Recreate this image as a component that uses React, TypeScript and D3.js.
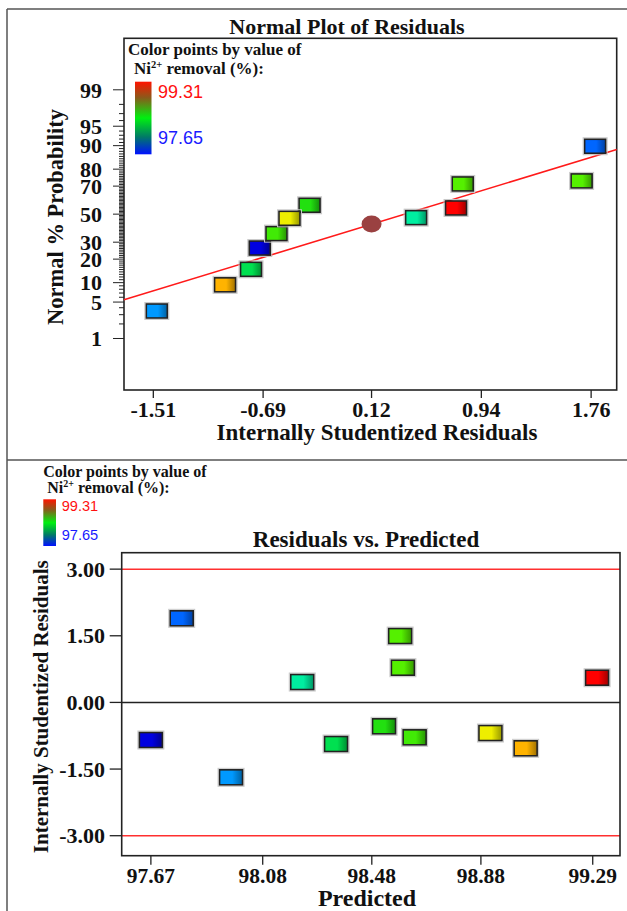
import React from 'react';
import * as d3 from 'd3';

// ---------- data ----------
// runs (same order in every array)
const predicted = [97.67, 97.783, 97.964, 98.225, 98.349, 98.525, 98.584, 98.594, 98.637, 98.915, 99.044, 99.306];
const residuals = [-0.846, 1.893, -1.686, 0.459, -0.936, -0.538, 1.494, 0.781, -0.786, -0.689, -1.033, 0.556];
const normalResiduals = [-0.715, 1.79, -1.484, 0.453, -0.78, -0.343, 1.689, 0.801, -0.59, -0.493, -0.974, 0.751];
const normalProbability = [26.3, 89.8, 3.5, 47.4, 15.1, 56.6, 73.3, 71.4, 35.8, 46.9, 9.3, 54.6];
const removal = [97.65, 97.85, 97.95, 98.3, 98.42, 98.52, 98.62, 98.62, 98.58, 98.9, 99.1, 99.31];

const centerPoint = { x: 0.12, p: 42.7 };
const fitLineX = [-1.729, 1.951];
const fitLineP = [5.45, 88.7];

const normalXTicks = [-1.51, -0.69, 0.12, 0.94, 1.76];
const probTicks = [1, 5, 10, 20, 30, 50, 70, 80, 90, 95, 99];
const predXTicks = [97.67, 98.08, 98.48, 98.88, 99.29];
const residYTicks = [-3, -1.5, 0, 1.5, 3];
const residLimits = [-3, 3];
const legendRange = [97.65, 99.31];

// colour map (rainbow) used by the software
const colorStops = [97.65, 97.85, 97.95, 98.3, 98.42, 98.52, 98.62, 98.9, 99.1, 99.31];
const colorRange = ['#0000e0', '#0066ff', '#0099ff', '#00eea0', '#00e050', '#22e010', '#55f000', '#eeee00', '#ffb300', '#ff0000'];

// ---------- helpers ----------
function probit(p: number): number {
  const a = [-3.969683028665376e1, 2.209460984245205e2, -2.759285104469687e2, 1.38357751867269e2, -3.066479806614716e1, 2.506628277459239];
  const b = [-5.447609879822406e1, 1.615858368580409e2, -1.556989798598866e2, 6.680131188771972e1, -1.328068155288572e1];
  const c = [-7.784894002430293e-3, -3.223964580411365e-1, -2.400758277161838, -2.549732539343734, 4.374664141464968, 2.938163982698783];
  const d = [7.784695709041462e-3, 3.224671290700398e-1, 2.445134137142996, 3.754408661907416];
  const pl = 0.02425;
  if (p < pl) {
    const q = Math.sqrt(-2 * Math.log(p));
    return (((((c[0] * q + c[1]) * q + c[2]) * q + c[3]) * q + c[4]) * q + c[5]) / ((((d[0] * q + d[1]) * q + d[2]) * q + d[3]) * q + 1);
  }
  if (p <= 1 - pl) {
    const q = p - 0.5;
    const r = q * q;
    return ((((((a[0] * r + a[1]) * r + a[2]) * r + a[3]) * r + a[4]) * r + a[5]) * q) / (((((b[0] * r + b[1]) * r + b[2]) * r + b[3]) * r + b[4]) * r + 1);
  }
  const q = Math.sqrt(-2 * Math.log(1 - p));
  return -(((((c[0] * q + c[1]) * q + c[2]) * q + c[3]) * q + c[4]) * q + c[5]) / ((((d[0] * q + d[1]) * q + d[2]) * q + d[3]) * q + 1);
}

const colorScale = d3.scaleLinear<string>().domain(colorStops).range(colorRange).interpolate(d3.interpolateRgb);

const SERIF = "'Liberation Serif', 'Times New Roman', serif";
const SANS = "'Liberation Sans', Arial, sans-serif";

// ---------- layout ----------
const W = 627;
const H = 911;
const top = { left: 124, right: 616.7, top: 38.3, bottom: 390 };
const bot = { left: 121.7, right: 620, top: 552.7, bottom: 855.7 };

const xTop = d3.scaleLinear().domain([-1.729, 1.951]).range([top.left, top.right]);
const zTop = d3.scaleLinear().domain([-3.29, 3.29]).range([top.bottom, top.top]);
const yTop = (p: number) => zTop(probit(p / 100));

const xBot = d3.scaleLinear().domain([97.563, 99.39]).range([bot.left, bot.right]);
const yBot = d3.scaleLinear().domain([-3.45, 3.37]).range([bot.bottom, bot.top]);

function Square({ cx, cy, w, h, color, gid }: any) {
  return (
    <g>
      <rect x={cx - w / 2 - 1.5} y={cy - h / 2 - 1.5} width={w + 3} height={h + 3} fill="none" stroke="#c8c8c8" strokeWidth={1} />
      <rect x={cx - w / 2} y={cy - h / 2} width={w} height={h} fill={`url(#${gid})`} stroke="#222" strokeWidth={1.6} />
    </g>
  );
}

function Legend({ x, y1, y2, barX, barY, barW, barH, titleSize, supSize, numSize, numX, numY1, numY2, nameX, gid }: any) {
  return (
    <g>
      <text x={x} y={y1} fontFamily={SERIF} fontWeight="bold" fontSize={titleSize} fill="#111">Color points by value of</text>
      <text x={nameX} y={y2} fontFamily={SERIF} fontWeight="bold" fontSize={titleSize} fill="#111">
        Ni<tspan fontSize={supSize} dy={-titleSize * 0.38}>2+</tspan>
        <tspan dy={titleSize * 0.38}> removal (%):</tspan>
      </text>
      <rect x={barX} y={barY} width={barW} height={barH} fill={`url(#${gid})`} />
      <text x={numX} y={numY1} fontFamily={SANS} fontSize={numSize} fill="#ff1010">{legendRange[1].toFixed(2)}</text>
      <text x={numX} y={numY2} fontFamily={SANS} fontSize={numSize} fill="#1a1aff">{legendRange[0].toFixed(2)}</text>
    </g>
  );
}

export default function App() {
  const minorProb = d3.range(1, 100);
  const uniqueColors = removal.map((v) => colorScale(v));

  return (
    <svg width={W} height={H} style={{ position: 'absolute', left: 0, top: 0, background: '#fff' }}>
      <defs>
        {uniqueColors.map((c, i) => {
          const dark = d3.color(c)!.darker(1.3).formatHex();
          return (
            <linearGradient key={i} id={`pg${i}`} x1="0" x2="1" y1="0" y2="0">
              <stop offset="0%" stopColor={c} />
              <stop offset="55%" stopColor={c} />
              <stop offset="100%" stopColor={dark} />
            </linearGradient>
          );
        })}
        <linearGradient id="cbar" x1="0" x2="0" y1="0" y2="1">
          <stop offset="0%" stopColor="#ff1400" />
          <stop offset="22%" stopColor="#8a5a1a" />
          <stop offset="50%" stopColor="#00f010" />
          <stop offset="76%" stopColor="#007a66" />
          <stop offset="100%" stopColor="#0010ff" />
        </linearGradient>
      </defs>

      {/* outer frames */}
      <rect x={0} y={0} width={W} height={H} fill="#fff" />
      <line x1={7} x2={W} y1={9} y2={9} stroke="#555" strokeWidth={1.5} />
      <line x1={7} x2={7} y1={9} y2={H} stroke="#555" strokeWidth={1.5} />
      <line x1={7} x2={W} y1={460} y2={460} stroke="#555" strokeWidth={1.5} />

      {/* ===== TOP: Normal plot ===== */}
      <text x={347} y={34} textAnchor="middle" fontFamily={SERIF} fontWeight="bold" fontSize={22} fill="#111">Normal Plot of Residuals</text>

      {/* y minor/major ticks */}
      {minorProb.map((p) => (
        <line key={`m${p}`} x1={top.left - (probTicks.includes(p) ? 11 : 5)} x2={top.left} y1={yTop(p)} y2={yTop(p)} stroke="#222" strokeWidth={1} />
      ))}
      {probTicks.map((p) => (
        <text key={`pl${p}`} x={102} y={yTop(p)} dy="0.35em" textAnchor="end" fontFamily={SERIF} fontWeight="bold" fontSize={22} fill="#111">{p}</text>
      ))}
      {normalXTicks.map((t) => (
        <g key={`xt${t}`}>
          <line x1={xTop(t)} x2={xTop(t)} y1={top.bottom} y2={top.bottom + 8} stroke="#222" strokeWidth={1.3} />
          <text x={xTop(t)} y={417} textAnchor="middle" fontFamily={SERIF} fontWeight="bold" fontSize={22} fill="#111">{t.toFixed(2)}</text>
        </g>
      ))}
      <text x={377} y={440} textAnchor="middle" fontFamily={SERIF} fontWeight="bold" fontSize={23} fill="#111">Internally Studentized Residuals</text>
      <text transform={`translate(63,217) rotate(-90)`} textAnchor="middle" fontFamily={SERIF} fontWeight="bold" fontSize={22.5} fill="#111">Normal % Probability</text>

      <rect x={top.left} y={top.top} width={top.right - top.left} height={top.bottom - top.top} fill="none" stroke="#222" strokeWidth={1.6} />

      <Legend x={128} y1={55} y2={74.3} nameX={134} barX={135} barY={81.7} barW={16.5} barH={72.6}
        titleSize={17} supSize={10.5} numSize={18} numX={158} numY1={98.3} numY2={144.3} gid="cbar" />

      <line x1={xTop(fitLineX[0])} x2={xTop(fitLineX[1])} y1={yTop(fitLineP[0])} y2={yTop(fitLineP[1])} stroke="#ff1a1a" strokeWidth={1.6} />

      {normalResiduals.map((r, i) => (
        <Square key={`ts${i}`} cx={xTop(r)} cy={yTop(normalProbability[i])} w={21} h={14} color={uniqueColors[i]} gid={`pg${i}`} />
      ))}
      <ellipse cx={xTop(centerPoint.x)} cy={yTop(centerPoint.p)} rx={10} ry={8.5} fill="#9a4141" />

      {/* ===== BOTTOM: Residuals vs predicted ===== */}
      <Legend x={43.3} y1={476.7} y2={493.3} nameX={47.3} barX={43.3} barY={499.3} barW={12.7} barH={46.7}
        titleSize={16} supSize={10} numSize={14.6} numX={61.7} numY1={510.7} numY2={540} gid="cbar" />

      <text x={366} y={546.7} textAnchor="middle" fontFamily={SERIF} fontWeight="bold" fontSize={23} fill="#111">Residuals vs. Predicted</text>

      {residLimits.map((v) => (
        <line key={`rl${v}`} x1={bot.left} x2={bot.right} y1={yBot(v)} y2={yBot(v)} stroke="#ff3030" strokeWidth={1.5} />
      ))}
      <line x1={bot.left} x2={bot.right} y1={yBot(0)} y2={yBot(0)} stroke="#222" strokeWidth={1.5} />

      {residYTicks.map((t) => (
        <g key={`yt${t}`}>
          <line x1={bot.left - 12} x2={bot.left} y1={yBot(t)} y2={yBot(t)} stroke="#222" strokeWidth={1.3} />
          <text x={105} y={yBot(t)} dy="0.35em" textAnchor="end" fontFamily={SERIF} fontWeight="bold" fontSize={22} fill="#111">{t.toFixed(2)}</text>
        </g>
      ))}
      {predXTicks.map((t) => (
        <g key={`px${t}`}>
          <line x1={xBot(t)} x2={xBot(t)} y1={bot.bottom} y2={bot.bottom + 9} stroke="#222" strokeWidth={1.3} />
          <text x={xBot(t)} y={883.3} textAnchor="middle" fontFamily={SERIF} fontWeight="bold" fontSize={21.5} fill="#111">{t.toFixed(2)}</text>
        </g>
      ))}
      <text x={367} y={906} textAnchor="middle" fontFamily={SERIF} fontWeight="bold" fontSize={24} fill="#111">Predicted</text>
      <text transform={`translate(48,706.7) rotate(-90)`} textAnchor="middle" fontFamily={SERIF} fontWeight="bold" fontSize={21} fill="#111">Internally Studentized Residuals</text>

      <rect x={bot.left} y={bot.top} width={bot.right - bot.left} height={bot.bottom - bot.top} fill="none" stroke="#222" strokeWidth={1.6} />

      {predicted.map((p, i) => (
        <Square key={`bs${i}`} cx={xBot(p)} cy={yBot(residuals[i])} w={23} h={15} color={uniqueColors[i]} gid={`pg${i}`} />
      ))}
    </svg>
  );
}
